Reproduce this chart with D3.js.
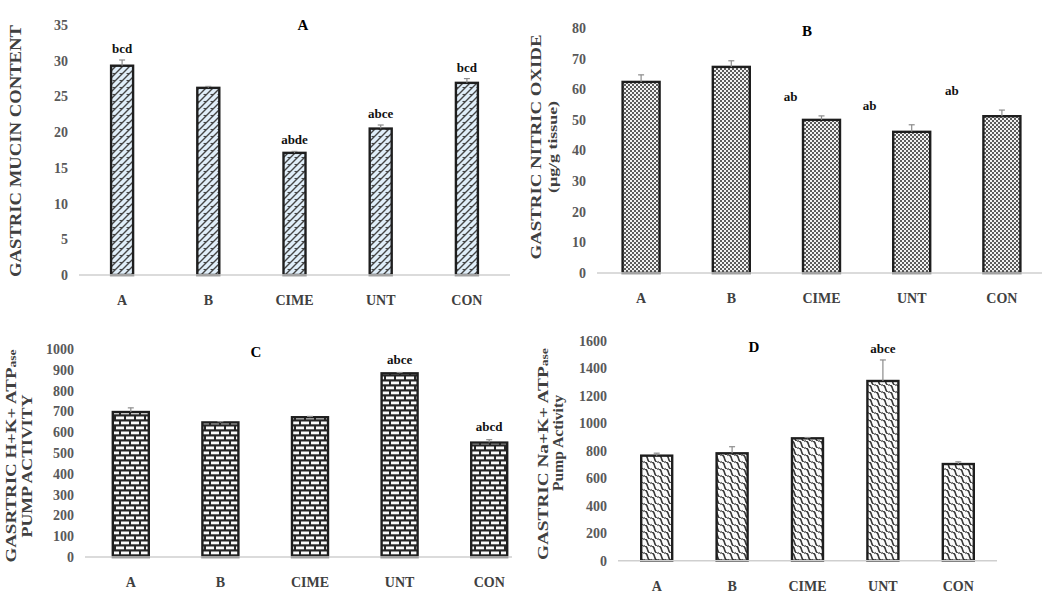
<!DOCTYPE html>
<html>
<head>
<meta charset="utf-8">
<script src="https://cdn.jsdelivr.net/npm/d3@7"></script>
<style>
  body { margin: 0; background: #fff; }
  text { font-family: "Liberation Serif", "Times New Roman", serif; font-weight: bold; }
</style>
</head>
<body>
<div id="chart"></div>
<script>
// data
var groups = ["A", "B", "CIME", "UNT", "CON"];

var mucin = [29.3, 26.2, 17.1, 20.5, 26.9];
var mucinErr = [0.8, 0.2, 0.2, 0.5, 0.6];
var mucinLetters = ["bcd", "", "abde", "abce", "bcd"];
var mucinTicks = [0, 5, 10, 15, 20, 25, 30, 35];

var nitric = [62.4, 67.3, 50.0, 46.1, 51.2];
var nitricErr = [2.3, 2.0, 1.3, 2.3, 2.0];
var nitricLetters = ["", "", "ab", "ab", "ab"];
var nitricTicks = [0, 10, 20, 30, 40, 50, 60, 70, 80];

var hk = [697, 647, 672, 883, 550];
var hkErr = [20, 4, 4, 4, 14];
var hkLetters = ["", "", "", "abce", "abcd"];
var hkTicks = [0, 100, 200, 300, 400, 500, 600, 700, 800, 900, 1000];

var nak = [764, 781, 890, 1307, 703];
var nakErr = [18, 48, 6, 153, 16];
var nakLetters = ["", "", "", "abce", ""];
var nakTicks = [0, 200, 400, 600, 800, 1000, 1200, 1400, 1600];

// setup
var w = 1063, h = 606;
var svg = d3.select("#chart").append("svg")
    .attr("width", w).attr("height", h);

var defs = svg.append("defs");

// A: diagonal zigzag hatch on pale blue
var pA = defs.append("pattern").attr("id", "patA").attr("patternUnits", "userSpaceOnUse")
    .attr("width", 7).attr("height", 7);
pA.append("rect").attr("width", 7).attr("height", 7).attr("fill", "#e0eef9");
pA.append("path").attr("d", "M-1,8 L8,-1 M-1,1 L1,-1 M6,8 L8,6")
    .attr("stroke", "#454545").attr("stroke-width", 1.4);
pA.append("path").attr("d", "M0.5,3.5 L3,3.5")
    .attr("stroke", "#454545").attr("stroke-width", 1.1);

// B: fine checker
var pB = defs.append("pattern").attr("id", "patB").attr("patternUnits", "userSpaceOnUse")
    .attr("width", 4).attr("height", 4);
pB.append("rect").attr("width", 4).attr("height", 4).attr("fill", "#f2f2f2");
pB.append("rect").attr("width", 2).attr("height", 2).attr("fill", "#5c5c5c");
pB.append("rect").attr("x", 2).attr("y", 2).attr("width", 2).attr("height", 2).attr("fill", "#5c5c5c");

// C: bricks
var pC = defs.append("pattern").attr("id", "patC").attr("patternUnits", "userSpaceOnUse")
    .attr("width", 10).attr("height", 10);
pC.append("rect").attr("width", 10).attr("height", 10).attr("fill", "#262626");
pC.append("rect").attr("x", 1).attr("y", 1.5).attr("width", 8).attr("height", 2.8).attr("fill", "#fafafa");
pC.append("rect").attr("x", -4).attr("y", 6.5).attr("width", 8).attr("height", 2.8).attr("fill", "#fafafa");
pC.append("rect").attr("x", 6).attr("y", 6.5).attr("width", 8).attr("height", 2.8).attr("fill", "#fafafa");

// D: backslash waves
var pD = defs.append("pattern").attr("id", "patD").attr("patternUnits", "userSpaceOnUse")
    .attr("width", 7).attr("height", 7);
pD.append("rect").attr("width", 7).attr("height", 7).attr("fill", "#fbfbfb");
pD.append("path").attr("d", "M-1,-1 Q3,0 3.5,3.5 T8,8 M-1,6 L1,8 M6,-1 L8,1")
    .attr("stroke", "#3a3a3a").attr("stroke-width", 1.6).attr("fill", "none");

var panels = [
  { title: "A", vals: mucin, err: mucinErr, letters: mucinLetters, ticks: mucinTicks, max: 35,
    xr: [79, 510], axisX: [79, 510], yr: [275, 25], bw: 22, fill: "url(#patA)",
    titleXY: [303, 30], labelDy: 7, nudge: [0, 0, 0, 0, 0],
    ytitle: [{ t: "GASTRIC MUCIN CONTENT", x: 15, y: 151, len: 252, fs: 16 }] },
  { title: "B", vals: nitric, err: nitricErr, letters: nitricLetters, ticks: nitricTicks, max: 80,
    xr: [596, 1047], axisX: [597, 1042], yr: [273, 28], bw: 37, fill: "url(#patB)",
    titleXY: [807, 36], labelDy: 15, nudge: [0, 0, -31, -42, -50],
    ytitle: [{ t: "GASTRIC NITRIC OXIDE", x: 536, y: 147, len: 225, fs: 15 },
             { t: "(µg/g tissue)", x: 553, y: 147, len: 92, fs: 12 }] },
  { title: "C", vals: hk, err: hkErr, letters: hkLetters, ticks: hkTicks, max: 1000,
    xr: [86, 534], axisX: [85, 512], yr: [557, 349], bw: 36, fill: "url(#patC)",
    titleXY: [256, 357], labelDy: 9, nudge: [0, 0, 0, 0, 0],
    ytitle: [{ t: "GASRTRIC H+K+ ATP", sub: "ase", x: 11, y: 456, len: 213, fs: 14 },
             { t: "PUMP ACTIVITY", x: 27, y: 466, len: 143, fs: 14 }] },
  { title: "D", vals: nak, err: nakErr, letters: nakLetters, ticks: nakTicks, max: 1600,
    xr: [619, 996], axisX: [618, 997], yr: [560.7, 340.7], bw: 31, fill: "url(#patD)",
    titleXY: [754, 352], labelDy: 7, nudge: [0, 0, 0, 0, 0],
    ytitle: [{ t: "GASTRIC Na+K+ ATP", sub: "ase", x: 543, y: 454, len: 212, fs: 14 },
             { t: "Pump Activity", x: 558, y: 443, len: 96, fs: 14 }] }
];

panels.forEach(function(p){
    var g = svg.append("g");
    var step = (p.xr[1] - p.xr[0]) / groups.length;
    var pad = 1 - p.bw / step;
    var x = d3.scaleBand().domain(groups).range(p.xr).paddingInner(pad).paddingOuter(pad / 2);
    var y = d3.scaleLinear().domain([0, p.max]).range(p.yr);

    // y tick labels
    var yAxis = g.append("g")
        .attr("transform", "translate(" + p.axisX[0] + ",0)")
        .call(d3.axisLeft(y).tickValues(p.ticks).tickFormat(d3.format("d")).tickSize(0).tickPadding(11));
    yAxis.select(".domain").remove();
    yAxis.selectAll("text")
        .style("font-family", "Liberation Serif").style("font-weight", "bold")
        .style("font-size", "14px").attr("fill", "#595959");

    // bars
    var data = groups.map(function(k, i){ return { k: k, v: p.vals[i], e: p.err[i], l: p.letters[i], n: p.nudge[i] }; });
    g.selectAll("rect.bar").data(data).enter().append("rect")
        .attr("class", "bar")
        .attr("x", function(d){ return x(d.k); })
        .attr("y", function(d){ return y(d.v); })
        .attr("width", x.bandwidth())
        .attr("height", function(d){ return y(0) - y(d.v); })
        .attr("fill", p.fill)
        .attr("stroke", "#1e1e1e")
        .attr("stroke-width", 2.4);

    // error bars
    var eb = g.selectAll("g.err").data(data).enter().append("g").attr("class", "err");
    eb.append("line")
        .attr("x1", function(d){ return x(d.k) + x.bandwidth() / 2; })
        .attr("x2", function(d){ return x(d.k) + x.bandwidth() / 2; })
        .attr("y1", function(d){ return y(d.v); })
        .attr("y2", function(d){ return y(d.v + d.e); })
        .attr("stroke", "#8c8c8c").attr("stroke-width", 1.2);
    eb.append("line")
        .attr("x1", function(d){ return x(d.k) + x.bandwidth() / 2 - 3; })
        .attr("x2", function(d){ return x(d.k) + x.bandwidth() / 2 + 3; })
        .attr("y1", function(d){ return y(d.v + d.e); })
        .attr("y2", function(d){ return y(d.v + d.e); })
        .attr("stroke", "#8c8c8c").attr("stroke-width", 1.2);

    // baseline
    g.append("line")
        .attr("x1", p.axisX[0]).attr("x2", p.axisX[1])
        .attr("y1", y(0)).attr("y2", y(0))
        .attr("stroke", "#cfcfcf").attr("stroke-width", 1.5);

    // x labels
    var xAxis = g.append("g")
        .attr("transform", "translate(0," + y(0) + ")")
        .call(d3.axisBottom(x).tickSize(0).tickPadding(20));
    xAxis.select(".domain").remove();
    xAxis.selectAll("text")
        .style("font-family", "Liberation Serif").style("font-weight", "bold")
        .style("font-size", "14px").attr("fill", "#404040");

    // significance letters
    g.selectAll("text.sig").data(data.filter(function(d){ return d.l; })).enter().append("text")
        .attr("class", "sig")
        .attr("x", function(d){ return x(d.k) + x.bandwidth() / 2 + d.n; })
        .attr("y", function(d){ return y(d.v + d.e) - p.labelDy; })
        .attr("text-anchor", "middle")
        .style("font-size", "13px")
        .attr("fill", "#111")
        .text(function(d){ return d.l; });

    // panel title
    g.append("text")
        .attr("x", p.titleXY[0]).attr("y", p.titleXY[1])
        .attr("text-anchor", "middle")
        .style("font-size", "15px")
        .attr("fill", "#000")
        .text(p.title);

    // y titles
    p.ytitle.forEach(function(t){
        var tx = g.append("text")
            .attr("transform", "translate(" + t.x + "," + t.y + ") rotate(-90)")
            .attr("text-anchor", "middle")
            .attr("dy", "0.35em")
            .attr("textLength", t.len)
            .attr("lengthAdjust", "spacingAndGlyphs")
            .style("font-size", t.fs + "px")
            .attr("fill", "#404040");
        tx.append("tspan").text(t.t);
        if (t.sub) tx.append("tspan").style("font-size", (t.fs - 4) + "px").text(t.sub);
    });
});
</script>
</body>
</html>
